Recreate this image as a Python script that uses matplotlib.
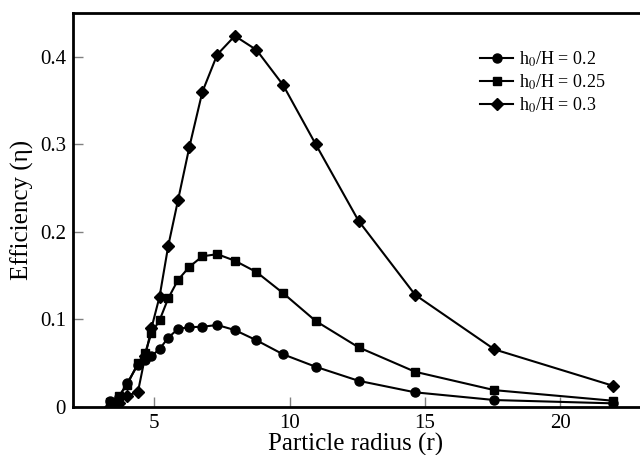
import matplotlib.pyplot as plt
from matplotlib.ticker import FuncFormatter

plt.rcParams['font.family'] = 'Liberation Serif'
plt.rcParams['mathtext.fontset'] = 'stix'

# particle radius values (shared by all three curves)
radius = [3.38, 3.69, 4.0, 4.4, 4.67, 4.9, 5.2, 5.52, 5.88, 6.3, 6.78, 7.33, 7.98,
          8.78, 9.76, 10.97, 12.55, 14.64, 17.57, 21.95]

eff_02 = [0.007, 0.011, 0.027, 0.048, 0.053, 0.058, 0.066, 0.079, 0.089, 0.091, 0.0915,
          0.0935, 0.0877, 0.076, 0.060, 0.0457, 0.0297, 0.0165, 0.0077, 0.0039]
eff_025 = [0.005, 0.012, 0.025, 0.050, 0.062, 0.084, 0.099, 0.124, 0.145, 0.160, 0.172,
           0.1745, 0.167, 0.154, 0.130, 0.098, 0.068, 0.040, 0.019, 0.0069]
eff_03 = [0.0, 0.004, 0.0126, 0.017, 0.058, 0.090, 0.126, 0.184, 0.236, 0.297, 0.360,
          0.4027, 0.424, 0.408, 0.368, 0.300, 0.2126, 0.128, 0.0656, 0.024]

labels = ['h$_0$/H = 0.2', 'h$_0$/H = 0.25', 'h$_0$/H = 0.3']

fig = plt.figure(figsize=(6.4, 4.55), dpi=100)
ax = fig.add_axes([0.114, 0.106, 0.884, 0.865])

ax.plot(radius, eff_02, '-o', color='black', lw=1.5, ms=6.5, label=labels[0])
ax.plot(radius, eff_025, '-s', color='black', lw=1.5, ms=6, label=labels[1])
ax.plot(radius, eff_03, '-D', color='black', lw=1.5, ms=6.5, label=labels[2])

ax.set_xlim(2, 22.9)
ax.set_ylim(0, 0.45)
ax.set_xticks([5, 10, 15, 20])
ax.set_yticks([0, 0.1, 0.2, 0.3, 0.4])
ax.yaxis.set_major_formatter(FuncFormatter(lambda v, p: '0' if v == 0 else '%g' % v))
ax.tick_params(direction='in', length=7, width=1, color='gray', labelsize=15, pad=5)

for s in ['left', 'bottom', 'top']:
    ax.spines[s].set_linewidth(2)
ax.spines['right'].set_visible(False)

ax.set_xlabel('Particle radius (r)', fontsize=18, labelpad=0)
ax.set_ylabel('Efficiency (η)', fontsize=18, labelpad=4)

ax.legend(loc='upper right', bbox_to_anchor=(0.97, 0.95), frameon=False, fontsize=13,
          handlelength=1.8, handletextpad=0.35, labelspacing=0.2)

plt.savefig('out.png', dpi=100)
